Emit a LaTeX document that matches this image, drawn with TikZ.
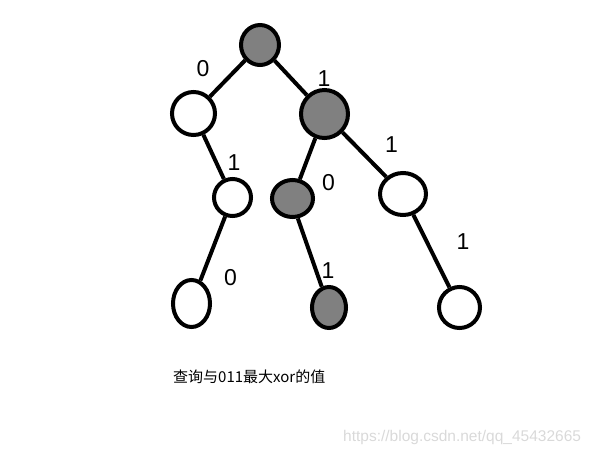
\documentclass[tikz,border=0pt]{standalone}
\usepackage{fontspec}
\setmainfont{Liberation Sans}
\newfontfamily\cjkfont{Noto Sans CJK SC}
\usetikzlibrary{shapes.geometric, positioning}
\tikzset{
  bit_font/.style = {font=\fontsize{23}{23}\selectfont},
  note_font/.style = {font=\cjkfont\fontsize{15}{15}\selectfont},
  mark_font/.style = {font=\fontsize{15.5}{15.5}\selectfont}
}
\tikzset{
  trie_node/.style = {ellipse, draw=black, line width=4, inner sep=0, fill=white},
  hit/.style = {trie_node, fill=black!50},
  size/.style 2 args = {minimum width=#1, minimum height=#2},
  bit/.style = {bit_font, inner sep=0},
  edge_line/.style = {line width=4, draw=black},
  note/.style = {note_font, anchor=west, inner sep=0},
  watermark/.style = {mark_font, text=black!15, anchor=west, inner sep=0}
}
\begin{document}
\begin{tikzpicture}[x=1pt, y=-1pt]
    \useasboundingbox (0,0) rectangle (595,456);
    
    % Nodes
    \node[hit, size={38}{40}] at (260,45) (root) {};
    \node[trie_node, size={43}{43}] at (193.5,113.5) (n_0) {};
    \node[hit, size={47}{48}] at (324.5,114) (n_1) {};
    \node[trie_node, size={37}{37}] at (232.5,197.5) (n_01) {};
    \node[hit, size={41}{37}] at (292.5,198.5) (n_10) {};
    \node[trie_node, size={46}{42}] at (403,194) (n_11) {};
    \node[trie_node, size={37}{47}] at (191.5,303.5) (n_010) {};
    \node[hit, size={34}{41}] at (329,307.5) (n_101) {};
    \node[trie_node, size={41}{41}] at (459.5,307.5) (n_111) {};
    
    % Edges
    \draw[edge_line] (root)--(n_0);
    \draw[edge_line] (root)--(n_1);
    \draw[edge_line] (n_0)--(n_01);
    \draw[edge_line] (n_01)--(n_010);
    \draw[edge_line] (n_1)--(n_10);
    \draw[edge_line] (n_1)--(n_11);
    \draw[edge_line] (n_10.-75)--(n_101);
    \draw[edge_line] (n_11)--(n_111);
    
    % Bits
    \node[bit] at (203,68.5) (b_0) {0};
    \node[bit] at (324,79) (b_1) {1};
    \node[bit] at (234,163) (b_01) {1};
    \node[bit] at (328.5,182.5) (b_10) {0};
    \node[bit] at (391.5,145) (b_11) {1};
    \node[bit] at (230.5,277.5) (b_010) {0};
    \node[bit] at (328,271) (b_101) {1};
    \node[bit] at (463,242) (b_111) {1};
    
    % Texts
    \node[note] at (173,377) (query) {查询与011最大xor的值};
    \node[watermark] at (343,437) (url) {https://blog.csdn.net/qq\_45432665};
\end{tikzpicture}
\end{document}
